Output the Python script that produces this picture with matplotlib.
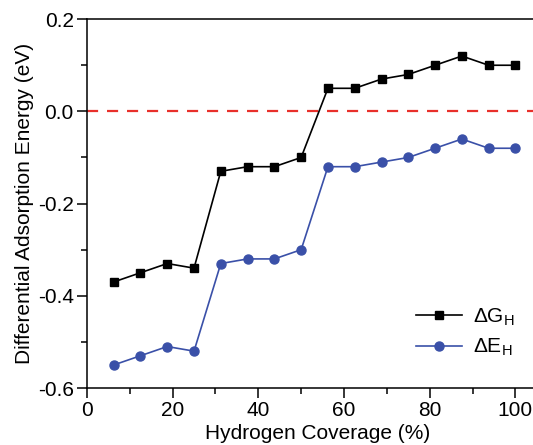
import matplotlib
matplotlib.use("Agg")
import matplotlib.pyplot as plt
from matplotlib.ticker import MultipleLocator

plt.rcParams['font.family'] = ['Liberation Sans', 'DejaVu Sans']
plt.rcParams['mathtext.fontset'] = 'custom'
plt.rcParams['mathtext.rm'] = 'Liberation Sans'
plt.rcParams['mathtext.it'] = 'Liberation Sans'

coverage = [6.25, 12.5, 18.75, 25, 31.25, 37.5, 43.75, 50, 56.25, 62.5, 68.75, 75, 81.25, 87.5, 93.75, 100]
delta_G = [-0.37, -0.35, -0.33, -0.34, -0.13, -0.12, -0.12, -0.10, 0.05, 0.05, 0.07, 0.08, 0.10, 0.12, 0.10, 0.10]
delta_E = [-0.55, -0.53, -0.51, -0.52, -0.33, -0.32, -0.32, -0.30, -0.12, -0.12, -0.11, -0.10, -0.08, -0.06, -0.08, -0.08]
xticks = [0, 20, 40, 60, 80, 100]
yticks = [-0.6, -0.4, -0.2, 0.0, 0.2]

fig = plt.figure(figsize=(5.33, 4.45), dpi=100)
ax = fig.add_axes([0.163, 0.128, 0.837, 0.829])

ax.axhline(0, color='#E8302B', linestyle=(0, (5, 4)), lw=1.6, zorder=1)
ax.plot(coverage, delta_G, color='black', marker='s', markersize=6, lw=1.2, label=r'$\Delta$G$_\mathrm{H}$')
ax.plot(coverage, delta_E, color='#3A50A8', marker='o', markersize=6.5, lw=1.2, label=r'$\Delta$E$_\mathrm{H}$')

ax.set_xlim(0, 104.1)
ax.set_ylim(-0.6, 0.2)
ax.set_xticks(xticks)
ax.set_yticks(yticks)
ax.set_yticklabels([f'{v:.1f}' for v in yticks])
ax.xaxis.set_minor_locator(MultipleLocator(10))
ax.yaxis.set_minor_locator(MultipleLocator(0.1))
ax.tick_params(which='major', direction='out', length=7, width=1.1, labelsize=15, pad=2.5)
ax.tick_params(which='minor', direction='out', length=4, width=1.1)
ax.spines['right'].set_visible(False)
for s in ['left', 'bottom', 'top']:
    ax.spines[s].set_linewidth(1.1)

ax.set_xlabel('Hydrogen Coverage (%)', fontsize=15)
ax.set_ylabel('Differential Adsorption Energy (eV)', fontsize=15, labelpad=3)
ax.xaxis.set_label_coords(0.518, -0.098)

ax.legend(loc='lower right', frameon=False, fontsize=15, handlelength=2.2,
          bbox_to_anchor=(1.0, 0.03), labelspacing=0.45, handletextpad=0.5)

fig.savefig('out.png', dpi=100)
